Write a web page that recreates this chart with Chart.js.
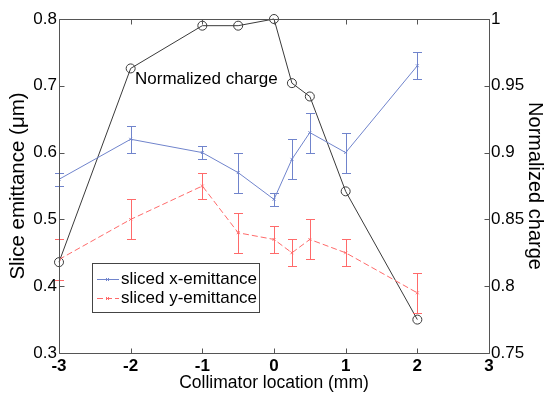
<!DOCTYPE html>
<html>
<head>
<meta charset="utf-8">
<script src="https://cdn.jsdelivr.net/npm/chart.js@4.4.1/dist/chart.umd.min.js"></script>
<style>
  html, body { margin: 0; padding: 0; background: #fff; }
  #wrap { width: 545px; height: 397px; }
</style>
</head>
<body>
<div id="wrap"><canvas id="myChart" width="545" height="397"></canvas></div>
<script>
// collimator positions (mm)
const collimatorLoc = [-3, -2, -1, -0.5, 0, 0.25, 0.5, 1, 2];
// slice emittance (um) with error bars
const xEmittance = [0.56, 0.62, 0.60, 0.57, 0.53, 0.59, 0.63, 0.60, 0.73];
const xEmittanceErr = [0.01, 0.02, 0.01, 0.03, 0.01, 0.03, 0.03, 0.03, 0.02];
const yEmittance = [0.44, 0.50, 0.55, 0.48, 0.47, 0.45, 0.47, 0.45, 0.39];
const yEmittanceErr = [0.03, 0.03, 0.02, 0.03, 0.02, 0.02, 0.03, 0.02, 0.03];
// normalized charge (right axis)
const normCharge = [0.818, 0.963, 0.995, 0.995, 1.0, 0.952, 0.942, 0.871, 0.775];

const xTicks = [-3, -2, -1, 0, 1, 2, 3];
const leftTicks = [0.3, 0.4, 0.5, 0.6, 0.7, 0.8];
const rightTicks = [0.75, 0.8, 0.85, 0.9, 0.95, 1];

const blue = '#7084cc';
const red = '#ff6a6a';
const dark = '#3a3a3a';
const axisColor = '#555';
const fontFam = '"Liberation Sans", Arial, sans-serif';

const toPoints = (ys) => collimatorLoc.map((x, i) => ({ x: x, y: ys[i] }));

// error bars, drawn through the dataset's own scales
const errorBars = {
    id: 'errorBars',
    afterDatasetsDraw(chart) {
        const ctx = chart.ctx;
        chart.data.datasets.forEach((ds) => {
            if (!ds.errors) return;
            const xs = chart.scales.x;
            const ys = chart.scales[ds.yAxisID];
            ctx.save();
            ctx.setLineDash([]);
            ctx.strokeStyle = ds.borderColor;
            ctx.lineWidth = 1;
            ds.data.forEach((p, i) => {
                const px = Math.round(xs.getPixelForValue(p.x)) + 0.5;
                const top = Math.round(ys.getPixelForValue(p.y + ds.errors[i])) + 0.5;
                const bot = Math.round(ys.getPixelForValue(p.y - ds.errors[i])) + 0.5;
                ctx.beginPath();
                ctx.moveTo(px, top); ctx.lineTo(px, bot);
                ctx.moveTo(px - 4.5, top); ctx.lineTo(px + 4.5, top);
                ctx.moveTo(px - 4.5, bot); ctx.lineTo(px + 4.5, bot);
                ctx.stroke();
            });
            ctx.restore();
        });
    }
};

// matlab-like box with inward ticks, legend and text label
const frame = {
    id: 'frame',
    afterDraw(chart) {
        const ctx = chart.ctx;
        const a = chart.chartArea;
        const sx = chart.scales.x, sl = chart.scales.y, sr = chart.scales.y2;
        const L = Math.round(a.left) + 0.5, R = Math.round(a.right) + 0.5;
        const T = Math.round(a.top) + 0.5, B = Math.round(a.bottom) + 0.5;
        ctx.save();
        ctx.strokeStyle = axisColor;
        ctx.lineWidth = 1;
        ctx.beginPath();
        ctx.rect(L, T, R - L, B - T);
        xTicks.forEach(v => {
            const px = Math.round(sx.getPixelForValue(v)) + 0.5;
            ctx.moveTo(px, B); ctx.lineTo(px, B - 5);
            ctx.moveTo(px, T); ctx.lineTo(px, T + 5);
        });
        leftTicks.forEach(v => {
            const py = Math.round(sl.getPixelForValue(v)) + 0.5;
            ctx.moveTo(L, py); ctx.lineTo(L + 5, py);
        });
        rightTicks.forEach(v => {
            const py = Math.round(sr.getPixelForValue(v)) + 0.5;
            ctx.moveTo(R, py); ctx.lineTo(R - 5, py);
        });
        ctx.stroke();

        // legend box
        const lx = 92.5, ly = 263.5, lw = 167, lh = 49;
        ctx.fillStyle = '#fff';
        ctx.fillRect(lx, ly, lw, lh);
        ctx.strokeStyle = '#444';
        ctx.strokeRect(lx, ly, lw, lh);
        ctx.font = '17px ' + fontFam;
        ctx.textBaseline = 'middle';
        ctx.textAlign = 'left';
        [0, 1].forEach(k => {
            const ds = chart.data.datasets[k];
            const ry = Math.round(ly + 15 + k * 19) + 0.5;
            ctx.strokeStyle = ds.borderColor;
            ctx.setLineDash(ds.borderDash || []);
            ctx.beginPath();
            ctx.moveTo(97, ry); ctx.lineTo(119, ry);
            ctx.stroke();
            ctx.setLineDash([]);
            ctx.beginPath();
            ctx.moveTo(106, ry - 1.5); ctx.lineTo(109, ry + 1.5);
            ctx.moveTo(109, ry - 1.5); ctx.lineTo(106, ry + 1.5);
            ctx.stroke();
            ctx.fillStyle = '#000';
            ctx.fillText(ds.label, 121, ry);
        });

        // label for the charge curve
        ctx.fillStyle = '#000';
        ctx.font = '17px ' + fontFam;
        ctx.fillText('Normalized charge', 135, 79);
        ctx.restore();
    }
};

const noGrid = { display: false, drawTicks: false, tickLength: 0 };

const ctx = document.getElementById('myChart').getContext('2d');
new Chart(ctx, {
    type: 'line',
    data: {
        datasets: [{
            label: 'sliced x-emittance',
            data: toPoints(xEmittance),
            errors: xEmittanceErr,
            yAxisID: 'y',
            borderColor: blue,
            backgroundColor: blue,
            borderWidth: 1,
            pointStyle: 'crossRot',
            pointRadius: 2,
            pointBorderWidth: 1,
            tension: 0
        }, {
            label: 'sliced y-emittance',
            data: toPoints(yEmittance),
            errors: yEmittanceErr,
            yAxisID: 'y',
            borderColor: red,
            backgroundColor: red,
            borderWidth: 1,
            borderDash: [6, 3],
            pointStyle: 'crossRot',
            pointRadius: 2,
            pointBorderWidth: 1,
            tension: 0
        }, {
            label: 'Normalized charge',
            data: toPoints(normCharge),
            yAxisID: 'y2',
            borderColor: dark,
            backgroundColor: 'rgba(0,0,0,0)',
            borderWidth: 1,
            pointStyle: 'circle',
            pointRadius: 4.5,
            pointBorderWidth: 1,
            tension: 0,
            clip: false
        }]
    },
    options: {
        responsive: false,
        animation: false,
        layout: { padding: { top: 19, left: 0, right: 0, bottom: 0 } },
        plugins: {
            legend: { display: false },
            tooltip: { enabled: false }
        },
        scales: {
            x: {
                type: 'linear',
                min: -3, max: 3,
                afterFit: (s) => { s.height = 44; },
                afterBuildTicks: (s) => { s.ticks = xTicks.map(v => ({ value: v })); },
                ticks: {
                    color: '#000',
                    padding: 3,
                    font: { family: fontFam, size: 17, weight: 'bold' },
                    callback: (v) => String(v)
                },
                grid: noGrid,
                border: { display: false },
                title: {
                    display: true,
                    text: 'Collimator location (mm)',
                    color: '#000',
                    font: { family: fontFam, size: 17.5 },
                    padding: { top: 0, bottom: 3 }
                }
            },
            y: {
                position: 'left',
                min: 0.3, max: 0.8,
                afterFit: (s) => { s.width = 59; },
                afterBuildTicks: (s) => { s.ticks = leftTicks.map(v => ({ value: v })); },
                ticks: {
                    color: '#000',
                    padding: 2,
                    font: { family: fontFam, size: 17 },
                    callback: (v) => v.toFixed(1)
                },
                grid: noGrid,
                border: { display: false },
                title: {
                    display: true,
                    text: 'Slice emittance (\u03bcm)',
                    color: '#000',
                    font: { family: fontFam, size: 20.5 },
                    padding: { top: 6, bottom: 0 }
                }
            },
            y2: {
                position: 'right',
                min: 0.75, max: 1,
                afterFit: (s) => { s.width = 56; },
                afterBuildTicks: (s) => { s.ticks = rightTicks.map(v => ({ value: v })); },
                ticks: {
                    color: '#000',
                    padding: 2,
                    font: { family: fontFam, size: 17 },
                    callback: (v) => String(+v.toFixed(2))
                },
                grid: noGrid,
                border: { display: false },
                title: {
                    display: true,
                    text: 'Normalized charge',
                    color: '#000',
                    font: { family: fontFam, size: 20 },
                    padding: { top: -2, bottom: 0 }
                }
            }
        }
    },
    plugins: [errorBars, frame]
});
</script>
</body>
</html>
